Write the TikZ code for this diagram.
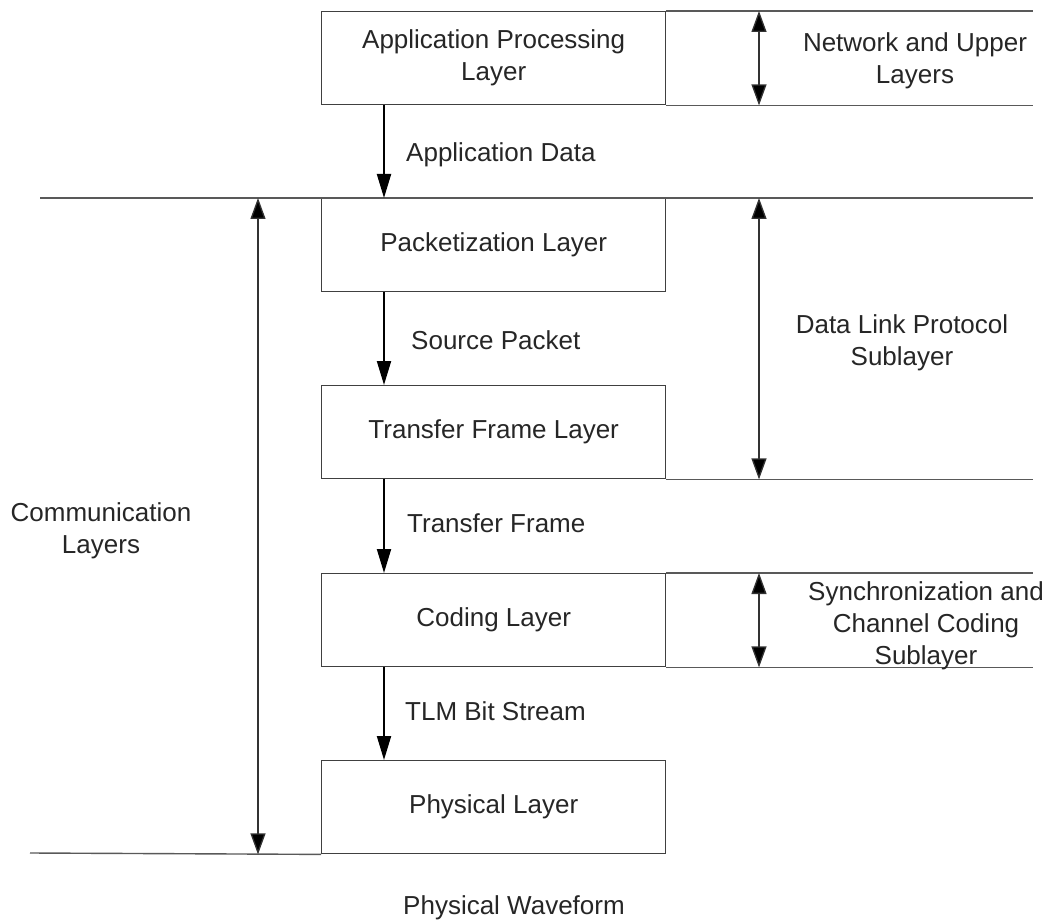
\documentclass[tikz,border=0pt]{standalone}
\usepackage{fontspec}
\setmainfont{Liberation Sans}
\usetikzlibrary{arrows.meta}
\begin{document}
\begin{tikzpicture}[x=1pt,y=-1pt,
  layerbox/.style={draw=black!75, line width=1.4pt, minimum width=344pt, minimum height=93pt,
    anchor=north west, inner sep=0pt, font=\fontsize{26}{32}\selectfont, align=center, text=black!85},
  lbl/.style={font=\fontsize{26}{32}\selectfont, align=center, inner sep=0pt, text=black!85},
  flow/.style={line width=2pt, -{Triangle[length=24pt,width=14pt]}},
  span/.style={line width=1.3pt, draw=black!80, {Triangle[length=21pt,width=15pt,fill=black]}-{Triangle[length=21pt,width=15pt,fill=black]}},
  rule/.style={draw=black!65, line width=1.4pt}]
\useasboundingbox (0,0) rectangle (1050,920);
% x positions
\coordinate (fx) at (384,0);
\coordinate (sx) at (759,0);
\coordinate (cx) at (258,0);
\coordinate (rx) at (1033,0);
% layer boxes
\node[layerbox] (app) at (321,11)  {Application Processing\\Layer};
\node[layerbox] (pkt) at (321,198) {Packetization Layer};
\node[layerbox] (tfl) at (321,385) {Transfer Frame Layer};
\node[layerbox] (cod) at (321,573) {Coding Layer};
\node[layerbox] (phy) at (321,760) {Physical Layer};
% horizontal rules
\coordinate (l3) at (40,198);
\coordinate (l7) at (30,853);
\draw[rule] (app.north east) -- (app.north -| rx);
\draw[rule] (app.south east) -- (app.south -| rx);
\draw[rule] (l3) -- (pkt.north -| rx);
\draw[rule] (tfl.south east) -- (tfl.south -| rx);
\draw[rule] (cod.north east) -- (cod.north -| rx);
\draw[rule] (cod.south east) -- (cod.south -| rx);
\draw[rule] (l7) -- (phy.south west);
% flow arrows
\draw[flow] (app.south -| fx) -- (pkt.north -| fx);
\draw[flow] (pkt.south -| fx) -- (tfl.north -| fx);
\draw[flow] (tfl.south -| fx) -- (cod.north -| fx);
\draw[flow] (cod.south -| fx) -- (phy.north -| fx);
% span arrows
\draw[span] (app.north -| sx) -- (app.south -| sx);
\draw[span] (pkt.north -| sx) -- (tfl.south -| sx);
\draw[span] (cod.north -| sx) -- (cod.south -| sx);
\draw[span] (pkt.north -| cx) -- (phy.south -| cx);
% labels
\node[lbl, anchor=base west] (ad) at (406,162) {Application Data};
\node[lbl, anchor=base west] (sp) at (411,349) {Source Packet};
\node[lbl, anchor=base west] (tf) at (407,532) {Transfer Frame};
\node[lbl, anchor=base west] (tlm) at (405,720) {TLM Bit Stream};
\node[lbl] (nu) at (915,60.4) {Network and Upper\\Layers};
\node[lbl] (dl) at (902,342.4) {Data Link Protocol\\Sublayer};
\node[lbl] (sc) at (926,625.4) {Synchronization and\\Channel Coding\\Sublayer};
\node[lbl] (cl) at (101,530.4) {Communication\\Layers};
\node[lbl, anchor=base west] (pw) at (403,914) {Physical Waveform};
\end{tikzpicture}
\end{document}
